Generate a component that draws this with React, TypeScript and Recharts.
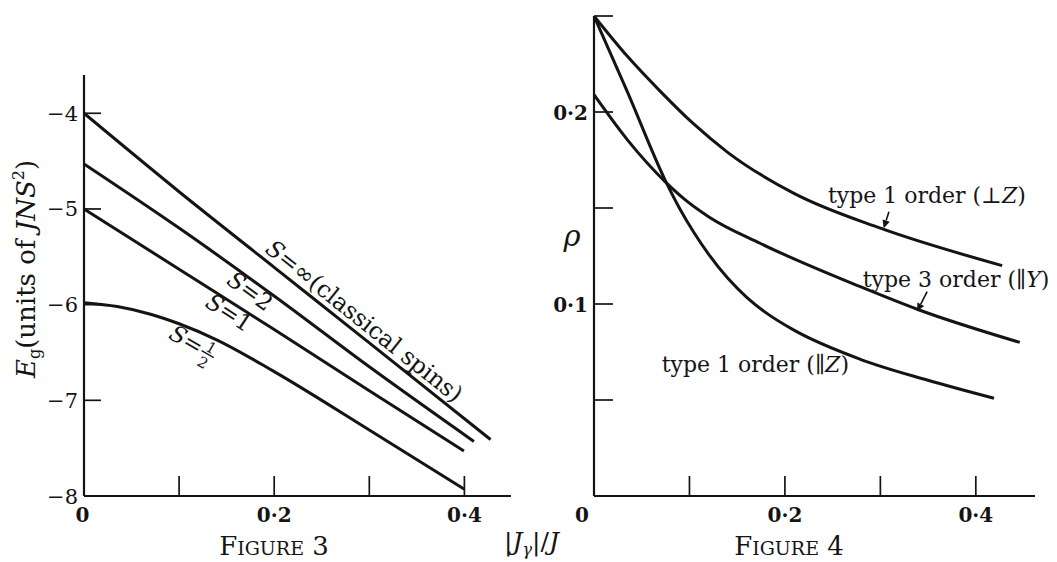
import React from "react";
import { LineChart, Line, XAxis, YAxis, ReferenceDot, ReferenceLine } from "recharts";

const INK = "#141414";
const FONT = "'DejaVu Serif', 'Liberation Serif', serif";

// ---- Figure 3: ground state energy E_g against |J_gamma|/J ----
const sInfinity = [
  { x: 0, y: -4.0 },
  { x: 0.1, y: -4.82 },
  { x: 0.2, y: -5.61 },
  { x: 0.3, y: -6.4 },
  { x: 0.4275, y: -7.41 },
];
const sTwo = [
  { x: 0, y: -4.53 },
  { x: 0.1, y: -5.2 },
  { x: 0.2, y: -5.91 },
  { x: 0.3, y: -6.65 },
  { x: 0.41, y: -7.43 },
];
const sOne = [
  { x: 0, y: -5.0 },
  { x: 0.1, y: -5.63 },
  { x: 0.2, y: -6.26 },
  { x: 0.3, y: -6.9 },
  { x: 0.3995, y: -7.53 },
];
const sHalf = [
  { x: 0, y: -5.98 },
  { x: 0.035, y: -6.02 },
  { x: 0.07, y: -6.1 },
  { x: 0.1, y: -6.2 },
  { x: 0.14, y: -6.37 },
  { x: 0.2, y: -6.7 },
  { x: 0.3, y: -7.31 },
  { x: 0.4, y: -7.93 },
];
const fig3XTicks = [0, 0.1, 0.2, 0.3, 0.4];
const fig3YTicks = [-8, -7, -6, -5, -4];

// ---- Figure 4: rho against |J_gamma|/J ----
const type1Perp = [
  { x: 0, y: 0.25 },
  { x: 0.035, y: 0.229 },
  { x: 0.07, y: 0.2105 },
  { x: 0.105, y: 0.1935 },
  { x: 0.14, y: 0.179 },
  { x: 0.21, y: 0.1575 },
  { x: 0.3, y: 0.1395 },
  { x: 0.4276, y: 0.12 },
];
const type3ParY = [
  { x: 0, y: 0.209 },
  { x: 0.035, y: 0.1855 },
  { x: 0.075, y: 0.1635 },
  { x: 0.095, y: 0.1545 },
  { x: 0.12, y: 0.1455 },
  { x: 0.1745, y: 0.1315 },
  { x: 0.279, y: 0.109 },
  { x: 0.34, y: 0.097 },
  { x: 0.446, y: 0.08 },
];
const type1ParZ = [
  { x: 0, y: 0.25 },
  { x: 0.035, y: 0.2105 },
  { x: 0.075, y: 0.164 },
  { x: 0.09, y: 0.1495 },
  { x: 0.105, y: 0.137 },
  { x: 0.12, y: 0.126 },
  { x: 0.14, y: 0.1135 },
  { x: 0.16, y: 0.1035 },
  { x: 0.18, y: 0.0955 },
  { x: 0.209, y: 0.0865 },
  { x: 0.279, y: 0.0712 },
  { x: 0.349, y: 0.0604 },
  { x: 0.419, y: 0.0509 },
];
const fig4XTicks = [0, 0.1, 0.2, 0.3, 0.4];
const fig4YTicks = [0.05, 0.1, 0.15, 0.2, 0.25];

const xTickText: Record<string, string> = { "0": "0", "0.2": "0·2", "0.4": "0·4" };
const fig4YTickText: Record<string, string> = { "0.1": "0·1", "0.2": "0·2" };

// little arrows from the labels to their curves (data coords)
const fig4Pointers = [
  [{ x: 0.309, y: 0.148 }, { x: 0.3035, y: 0.1395 }],
  [{ x: 0.349, y: 0.1064 }, { x: 0.3385, y: 0.0962 }],
];

function makeXTick(zeroDx: number) {
  return (props: any) => {
    const { x, y, payload } = props;
    const v = payload.value;
    const label = xTickText[String(v)];
    return (
      <g>
        {v !== 0 && <line x1={x} x2={x} y1={y} y2={y - 20} stroke={INK} strokeWidth={1.7} />}
        {label && (
          <text
            x={x + (v === 0 ? zeroDx : 0)}
            y={y + 26}
            textAnchor="middle"
            fontFamily={FONT}
            fontWeight="bold"
            fontSize={20}
            fill={INK}
          >
            {label}
          </text>
        )}
      </g>
    );
  };
}

function Fig3YTick(props: any) {
  const { x, y, payload } = props;
  const v = payload.value;
  const ax = x + 6;
  return (
    <g>
      {v !== -8 && <line x1={ax} x2={ax + 17} y1={y} y2={y} stroke={INK} strokeWidth={1.7} />}
      <text x={x} y={y + 7.5} textAnchor="end" fontFamily={FONT} fontSize={21} fill={INK}>
        {"−" + Math.abs(v)}
      </text>
    </g>
  );
}

function Fig4YTick(props: any) {
  const { x, y, payload } = props;
  const label = fig4YTickText[String(payload.value)];
  const ax = x + 6;
  return (
    <g>
      <line x1={ax} x2={ax + 19} y1={y} y2={y} stroke={INK} strokeWidth={1.7} />
      {label && (
        <text x={x} y={y + 7.5} textAnchor="end" fontFamily={FONT} fontWeight="bold" fontSize={20} fill={INK}>
          {label}
        </text>
      )}
    </g>
  );
}

function Arrow(p: any) {
  const { x1, y1, x2, y2 } = p;
  const dx = x2 - x1;
  const dy = y2 - y1;
  const len = Math.hypot(dx, dy) || 1;
  const ux = dx / len;
  const uy = dy / len;
  const bx = x2 - ux * 8;
  const by = y2 - uy * 8;
  return (
    <g>
      <line x1={x1} y1={y1} x2={bx} y2={by} stroke={INK} strokeWidth={1.6} />
      <polygon
        points={`${x2},${y2} ${bx - uy * 3.8},${by + ux * 3.8} ${bx + uy * 3.8},${by - ux * 3.8}`}
        fill={INK}
      />
    </g>
  );
}

const at = (render: (cx: number, cy: number) => React.ReactElement) => (p: any) => render(p.cx, p.cy);

const axisStyle = { stroke: INK, strokeWidth: 2.2 };
const curve = {
  type: "monotone" as const,
  dataKey: "y",
  stroke: INK,
  strokeWidth: 3,
  dot: false,
  activeDot: false,
  isAnimationActive: false,
};

function Figure3() {
  return (
    <LineChart width={530} height={562} margin={{ top: 75, right: 19, bottom: 26, left: 24 }}>
      <XAxis
        type="number"
        dataKey="x"
        domain={[0, 0.449]}
        ticks={fig3XTicks}
        interval={0}
        height={40}
        tickSize={0}
        tickMargin={0}
        tickLine={false}
        axisLine={axisStyle}
        tick={makeXTick(-1.5)}
        allowDataOverflow
      />
      <YAxis
        type="number"
        domain={[-8, -3.6]}
        ticks={fig3YTicks}
        interval={0}
        width={60}
        tickSize={0}
        tickMargin={6}
        tickLine={false}
        axisLine={axisStyle}
        tick={Fig3YTick}
        allowDataOverflow
      />
      <Line {...curve} data={sInfinity} />
      <Line {...curve} data={sTwo} />
      <Line {...curve} data={sOne} />
      <Line {...curve} data={sHalf} />

      <ReferenceDot
        x={0.2895}
        y={-6.238}
        r={1}
        shape={at((cx, cy) => (
          <text
            transform={`translate(${cx},${cy}) rotate(38.6)`}
            textAnchor="middle"
            fontFamily={FONT}
            fontSize={23.5}
            fill={INK}
          >
            <tspan fontStyle="italic">S</tspan>=∞(classical spins)
          </text>
        ))}
      />
      <ReferenceDot
        x={0.1698}
        y={-5.926}
        r={1}
        shape={at((cx, cy) => (
          <text
            transform={`translate(${cx},${cy}) rotate(36)`}
            textAnchor="middle"
            fontFamily={FONT}
            fontSize={23}
            fill={INK}
          >
            <tspan fontStyle="italic">S</tspan>=2
          </text>
        ))}
      />
      <ReferenceDot
        x={0.148}
        y={-6.153}
        r={1}
        shape={at((cx, cy) => (
          <text
            transform={`translate(${cx},${cy}) rotate(33)`}
            textAnchor="middle"
            fontFamily={FONT}
            fontSize={23}
            fill={INK}
          >
            <tspan fontStyle="italic">S</tspan>=1
          </text>
        ))}
      />
      <ReferenceDot
        x={0.1187}
        y={-6.525}
        r={1}
        shape={at((cx, cy) => (
          <g transform={`translate(${cx},${cy}) rotate(30)`} fontFamily={FONT} fill={INK}>
            <text x={1} y={0} textAnchor="end" fontSize={23}>
              <tspan fontStyle="italic">S</tspan>=
            </text>
            <text x={9} y={-8} textAnchor="middle" fontSize={15}>1</text>
            <line x1={2} x2={16} y1={-6} y2={-6} stroke={INK} strokeWidth={1.3} />
            <text x={9} y={9} textAnchor="middle" fontSize={15}>2</text>
          </g>
        ))}
      />
    </LineChart>
  );
}

function Figure4() {
  return (
    <LineChart width={527} height={562} margin={{ top: 16, right: 22, bottom: 26, left: 14 }}>
      <XAxis
        type="number"
        dataKey="x"
        domain={[0, 0.462]}
        ticks={fig4XTicks}
        interval={0}
        height={40}
        tickSize={0}
        tickMargin={0}
        tickLine={false}
        axisLine={axisStyle}
        tick={makeXTick(-12)}
        allowDataOverflow
      />
      <YAxis
        type="number"
        domain={[0, 0.25]}
        ticks={fig4YTicks}
        interval={0}
        width={50}
        tickSize={0}
        tickMargin={6}
        tickLine={false}
        axisLine={axisStyle}
        tick={Fig4YTick}
        allowDataOverflow
      />
      <Line {...curve} data={type1Perp} />
      <Line {...curve} data={type3ParY} />
      <Line {...curve} data={type1ParZ} />

      {fig4Pointers.map((seg, i) => (
        <ReferenceLine key={i} segment={seg} shape={Arrow} ifOverflow="visible" />
      ))}

      <ReferenceDot
        x={0.3487}
        y={0.1526}
        r={1}
        shape={at((cx, cy) => (
          <text x={cx} y={cy} textAnchor="middle" fontFamily={FONT} fontSize={22} fill={INK}>
            type 1 order (⊥<tspan fontStyle="italic">Z</tspan>)
          </text>
        ))}
      />
      <ReferenceDot
        x={0.2815}
        y={0.109}
        r={1}
        shape={at((cx, cy) => (
          <text x={cx} y={cy} textAnchor="start" fontFamily={FONT} fontSize={22} fill={INK}>
            type 3 order (∥<tspan fontStyle="italic">Y</tspan>)
          </text>
        ))}
      />
      <ReferenceDot
        x={0.169}
        y={0.0647}
        r={1}
        shape={at((cx, cy) => (
          <text x={cx} y={cy} textAnchor="middle" fontFamily={FONT} fontSize={22} fill={INK}>
            type 1 order (∥<tspan fontStyle="italic">Z</tspan>)
          </text>
        ))}
      />
    </LineChart>
  );
}

export default function App() {
  return (
    <div
      style={{
        position: "absolute",
        left: 0,
        top: 0,
        width: 1057,
        height: 562,
        background: "#fff",
        overflow: "hidden",
      }}
    >
      <div style={{ position: "absolute", left: 0, top: 0 }}>
        <Figure3 />
      </div>
      <div style={{ position: "absolute", left: 530, top: 0 }}>
        <Figure4 />
      </div>
      <svg
        width={1057}
        height={562}
        style={{ position: "absolute", left: 0, top: 0, pointerEvents: "none" }}
        fontFamily={FONT}
        fill={INK}
      >
        <text transform="translate(35,269) rotate(-90)" textAnchor="middle" fontSize={26}>
          <tspan fontStyle="italic">E</tspan>
          <tspan fontSize={16} dy={5}>g</tspan>
          <tspan dy={-5}>(units of </tspan>
          <tspan fontStyle="italic">JNS</tspan>
          <tspan fontSize={16} dy={-11}>2</tspan>
          <tspan dy={11}>)</tspan>
        </text>
        <text x={572} y={246} textAnchor="middle" fontSize={29} fontStyle="italic">ρ</text>
        <text x={504} y={550} fontSize={25}>
          |<tspan fontStyle="italic">J</tspan>
          <tspan fontSize={16} dy={5} fontStyle="italic">γ</tspan>
          <tspan dy={-5}>|/</tspan>
          <tspan fontStyle="italic">J</tspan>
        </text>
        <text x={274} y={555} textAnchor="middle" fontSize={26}>
          F<tspan fontSize={19}>IGURE</tspan> 3
        </text>
        <text x={789} y={555} textAnchor="middle" fontSize={26}>
          F<tspan fontSize={19}>IGURE</tspan> 4
        </text>
      </svg>
    </div>
  );
}
